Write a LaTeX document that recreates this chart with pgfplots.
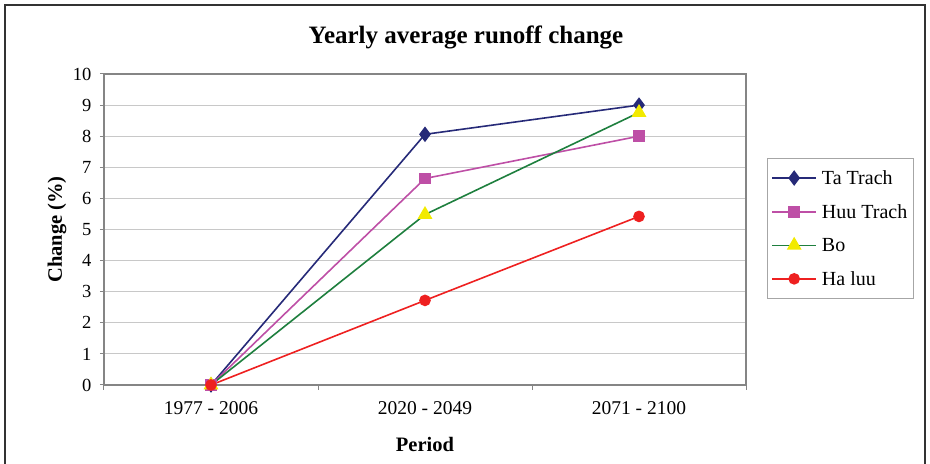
\documentclass[border=0pt]{standalone}
\usepackage{fontspec}
\setmainfont{Liberation Serif}
\usepackage{pgfplots}
\pgfplotsset{compat=1.18}
\definecolor{tatrach}{HTML}{262A78}
\definecolor{huutrach}{HTML}{BE4FA6}
\definecolor{bo}{HTML}{1E7F3E}
\definecolor{boyellow}{HTML}{F2EA00}
\definecolor{haluu}{HTML}{EE2020}
\definecolor{gridc}{HTML}{C8C8C8}
\definecolor{axc}{HTML}{858585}
\begin{document}
\begin{tikzpicture}[x=1bp,y=1bp]
\useasboundingbox (-104,-79) rectangle (826,385);
\draw[line width=2bp, color=black!80] (-99,-79) -- (-99,380) -- (821,380) -- (821,-79);
\node[font=\bfseries\fontsize{25bp}{30bp}\selectfont] at (362,348) {Yearly average runoff change};
\begin{axis}[
  at={(0,0)}, anchor=south west,
  scale only axis, width=642bp, height=311bp,
  xmin=-0.5, xmax=2.5, ymin=0, ymax=10,
  clip=false,
  xtick={0,1,2}, xticklabels={1977 - 2006, 2020 - 2049, 2071 - 2100},
  minor xtick={-0.5,0.5,1.5,2.5},
  major x tick style={draw=none},
  ytick={0,1,...,10},
  ymajorgrids, grid style={gridc, line width=1bp},
  axis line style={axc, line width=1.8bp},
  tick style={axc, line width=1bp},
  tick align=outside, major tick length=4bp, minor tick length=5bp,
  xtick pos=left, ytick pos=left,
  xticklabel style={font=\fontsize{19.5bp}{22bp}\selectfont, yshift=-9bp},
  yticklabel style={font=\fontsize{18.5bp}{22bp}\selectfont, xshift=-5bp},
  /pgf/number format/assume math mode=true,
  xlabel={Period}, ylabel={Change (\%)},
  label style={font=\bfseries\fontsize{20.5bp}{24bp}\selectfont},
  xlabel style={at={(axis description cs:0.5,-0.19)}, anchor=center},
  ylabel style={at={(axis description cs:-0.073,0.5)}, anchor=center},
  legend style={at={(1.0327,0.730)}, anchor=north west, draw=gray!70, line width=0.8bp,
    font=\fontsize{20bp}{24bp}\selectfont, inner xsep=4bp, inner ysep=10bp, row sep=14.5bp,
    /tikz/every odd column/.append style={column sep=3bp}},
  legend cell align=left,
  legend image code/.code={\draw[mark repeat=2,mark phase=2,#1,line width=1.6bp] plot coordinates {(0bp,0bp)(22bp,0bp)(44bp,0bp)};},
]
\addplot[tatrach, line width=1.6bp, mark=diamond*, mark size=6.5bp, mark options={fill=tatrach}] coordinates {(0,0)(1,8.06)(2,9.0)};
\addplot[huutrach, line width=1.6bp, mark=square*, mark size=5bp, mark options={fill=huutrach}] coordinates {(0,0)(1,6.64)(2,8.0)};
\addplot[bo, line width=1.6bp, mark=triangle*, mark size=7bp, mark options={fill=boyellow, draw=boyellow}] coordinates {(0,0)(1,5.48)(2,8.76)};
\addplot[haluu, line width=1.6bp, mark=*, mark size=5bp, mark options={fill=haluu}] coordinates {(0,0)(1,2.72)(2,5.42)};
\legend{Ta Trach, Huu Trach, Bo, Ha luu}
\end{axis}
\end{tikzpicture}
\end{document}
